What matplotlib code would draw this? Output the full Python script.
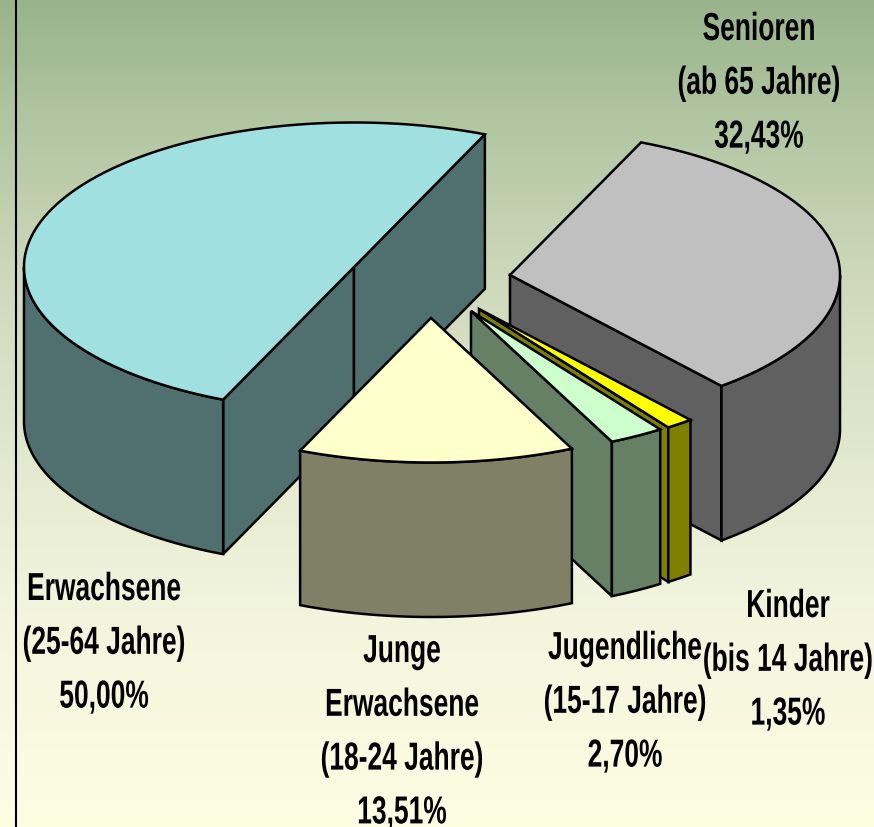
import numpy as np
import matplotlib
matplotlib.use("Agg")
import matplotlib.pyplot as plt
import matplotlib.patheffects as pe
from matplotlib.colors import LinearSegmentedColormap
from matplotlib.patches import Polygon
from matplotlib.transforms import Affine2D

# data, clockwise from the start angle
names = ["Senioren", "Kinder", "Jugendliche", "Junge\nErwachsene", "Erwachsene"]
ages = ["(ab 65 Jahre)", "(bis 14 Jahre)", "(15-17 Jahre)", "(18-24 Jahre)", "(25-64 Jahre)"]
shares = [32.43, 1.35, 2.70, 13.51, 50.00]

topColors = ["#C0C0C0", "#FFFF00", "#CCFFCC", "#FFFFCC", "#A0E0E0"]
sideColors = ["#606060", "#808000", "#668066", "#808066", "#507070"]

# pie geometry in pixels of the picture
centers = [(510, 276), (479, 310), (471, 312), (431, 319), (354, 268)]
labelPos = [(759, 41), (788, 618), (625, 660), (402, 663), (104, 601)]
rx, ry = 330, 144.5
depth = 154.5
startAngle = 66.6
lineStep = 53.8
drawOrder = [4, 0, 1, 2, 3]


class Stretch(pe.AbstractPathEffect):
    # the text in the picture is taller than any installed narrow font
    def __init__(self, sx, sy):
        super().__init__()
        self.sx = sx
        self.sy = sy

    def draw_path(self, renderer, gc, tpath, affine, rgbFace=None):
        renderer.draw_path(gc, tpath, Affine2D().scale(self.sx, self.sy) + affine, rgbFace)


def rimPoint(c, angle, drop=0):
    a = np.radians(angle)
    return (c[0] + rx * np.cos(a), c[1] - ry * np.sin(a) + drop)


def addPoly(ax, pts, color):
    ax.add_patch(Polygon(pts, closed=True, facecolor=color, edgecolor="black",
                         linewidth=1.8, joinstyle="miter"))


def drawWall(ax, c, angle, color):
    p = rimPoint(c, angle)
    addPoly(ax, [c, p, (p[0], p[1] + depth), (c[0], c[1] + depth)], color)


def drawSlice(ax, c, a1, a2, top, side):
    # a1 > a2, going clockwise
    if np.cos(np.radians(a1)) < 0:
        drawWall(ax, c, a1, side)
    if np.cos(np.radians(a2)) > 0:
        drawWall(ax, c, a2, side)

    # outer skin, only the part that faces the viewer
    lo = np.arange(a2, a1, 0.5)
    lo = np.append(lo, a1)
    lo = lo[np.sin(np.radians(lo)) <= 0]
    if len(lo) > 1:
        upper = [rimPoint(c, a) for a in lo]
        lower = [rimPoint(c, a, depth) for a in lo[::-1]]
        addPoly(ax, upper + lower, side)

    arc = np.linspace(a1, a2, 300)
    addPoly(ax, [c] + [rimPoint(c, a) for a in arc], top)


def main():
    fig = plt.figure(figsize=(8.74, 8.28), dpi=100)
    ax = fig.add_axes([0, 0, 1, 1])
    ax.set_xlim(0, 874)
    ax.set_ylim(828, 0)
    ax.axis("off")

    # background fade
    stops = [(0.0, "#98B48C"), (0.15, "#B2C6A2"), (0.36, "#D2DABE"),
             (0.72, "#F1F4DC"), (1.0, "#FDFDE2")]
    cmap = LinearSegmentedColormap.from_list("bg", stops)
    ax.imshow(np.linspace(0, 1, 256).reshape(-1, 1), cmap=cmap, aspect="auto",
              extent=(0, 874, 828, 0), zorder=0)
    ax.set_xlim(0, 874)
    ax.set_ylim(828, 0)
    ax.plot([16, 16], [0, 828], color="black", linewidth=1.5)

    ends = startAngle - np.cumsum(shares) * 3.6
    starts = np.concatenate(([startAngle], ends[:-1]))
    for i in drawOrder:
        drawSlice(ax, centers[i], starts[i], ends[i], topColors[i], sideColors[i])

    for i in range(len(names)):
        lines = names[i].split("\n") + [ages[i], "{:.2f}%".format(shares[i]).replace(".", ",")]
        x, y = labelPos[i]
        for n, line in enumerate(lines):
            t = ax.text(x, y + n * lineStep, line, ha="center", va="baseline", color="black",
                        fontsize=19, fontweight="bold",
                        family=["Liberation Sans Narrow", "Liberation Sans", "DejaVu Sans"])
            t.set_path_effects([Stretch(1.0, 1.48)])

    fig.savefig("out.png", dpi=100)


if __name__ == "__main__":
    main()
